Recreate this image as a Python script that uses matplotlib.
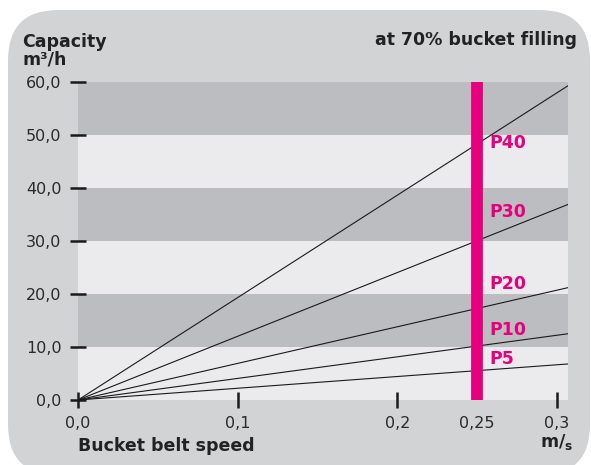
import matplotlib.pyplot as plt
from matplotlib.patches import FancyBboxPatch

plt.rcParams['font.family'] = ['DejaVu Sans']

# belt speed (m/s) and capacity (m3/h) at 70% bucket filling
speed = [0.0, 0.307]
series = ['P40', 'P30', 'P20', 'P10', 'P5']
capacity_end = [59.3, 36.9, 21.2, 12.5, 6.8]
label_y = [48.5, 35.5, 21.8, 13.2, 7.7]

y_ticks = [0, 10, 20, 30, 40, 50, 60]
y_labels = ['0,0', '10,0', '20,0', '30,0', '40,0', '50,0', '60,0']
x_ticks = [0.0, 0.1, 0.2, 0.3]
x_labels = ['0,0', '0,1', '0,2', '0,3']
marker_speed = 0.25

fig = plt.figure(figsize=(5.91, 4.65), dpi=100)
fig.patch.set_facecolor('white')
bg = FancyBboxPatch((8/591, -10/465), 582/591, 465/465,
                    boxstyle='round,pad=0,rounding_size=0.085',
                    transform=fig.transFigure, facecolor='#d2d3d5',
                    edgecolor='none', mutation_aspect=591/465, zorder=-10)
fig.patches.append(bg)

ax = fig.add_axes([78/591, 1-400/465, 490/591, 318/465])
ax.set_facecolor('#ebebed')
for lo in range(10, 60, 20):
    ax.axhspan(lo, lo + 10, color='#bcbdc0', lw=0, zorder=0)

for name, end in zip(series, capacity_end):
    ax.plot(speed, [0, end], color='#1a1a1a', lw=0.8, zorder=2)

ax.axvline(marker_speed, color='#e6007e', lw=8.5, zorder=3)
for name, y in zip(series, label_y):
    ax.text(0.2575, y, name, color='#e6007e', fontsize=12.5, fontweight='bold',
            va='center', ha='left', zorder=4)

ax.set_xlim(0, 0.307)
ax.set_ylim(0, 60)
ax.set_yticks(y_ticks, y_labels)
ax.set_xticks(x_ticks, x_labels)
ax.set_xticks([marker_speed], ['0,25'], minor=True)
for s in ax.spines.values():
    s.set_visible(False)
ax.tick_params(axis='both', which='major', direction='inout', length=11.5,
               width=1.8, color='#1a1a1a', labelsize=11.5, labelcolor='#2a2a2a')
ax.tick_params(axis='y', pad=6)
ax.tick_params(axis='x', pad=6)
ax.tick_params(axis='x', which='minor', length=0, pad=6 + 5.75,
               labelsize=11.5, labelcolor='#2a2a2a')

title_kw = dict(fontsize=12.5, fontweight='bold', color='#222222', va='center')
fig.text(22/591, 1-42/465, 'Capacity', **title_kw)
fig.text(22/591, 1-59/465, 'm³/h', **title_kw)
fig.text(577/591, 1-40/465, 'at 70% bucket filling', ha='right', **title_kw)
fig.text(78/591, 1-446/465, 'Bucket belt speed', **title_kw)
fig.text(573/591, 1-442/465, 'm/$_{\\mathbf{s}}$', ha='right', **title_kw)

fig.savefig('out.png', dpi=100, facecolor='white')
